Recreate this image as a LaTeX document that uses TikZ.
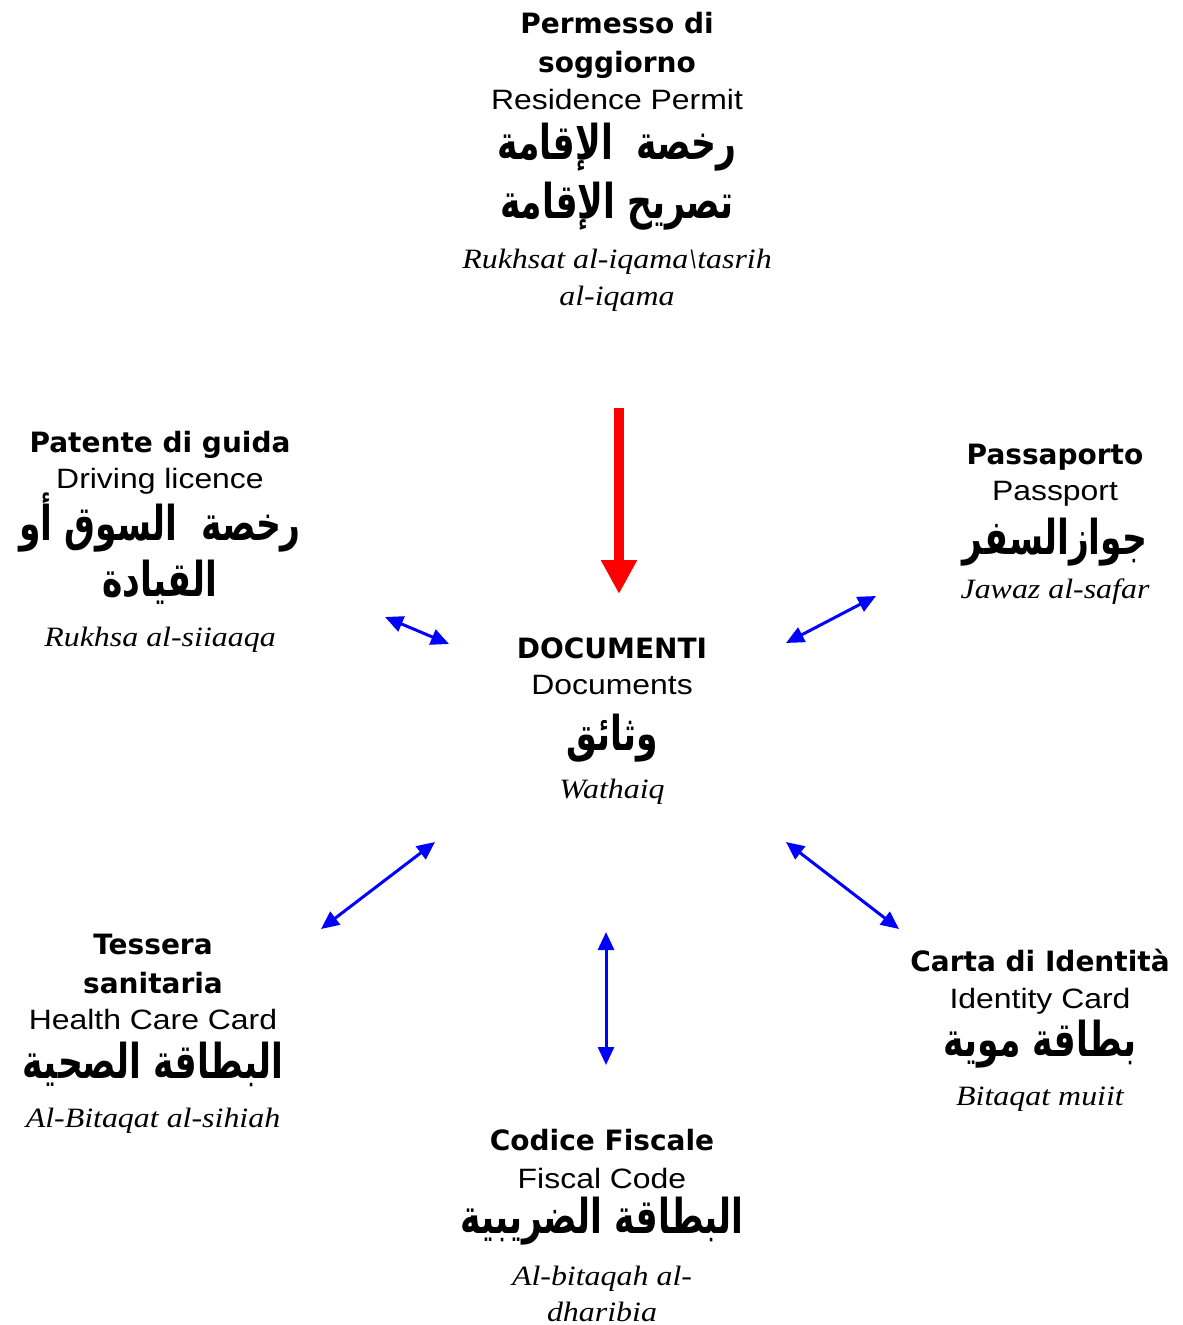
\documentclass[tikz,border=0pt]{standalone}
\usepackage{fontspec}
\usetikzlibrary{arrows.meta}
\TeXXeTstate=1
\setmainfont{Liberation Serif}
\newfontfamily\titfont{DejaVu Sans}
\newfontfamily\engfont[FakeStretch=1.14]{Liberation Sans}
\newfontfamily\trfont[FakeStretch=1.14]{Liberation Serif}
\newfontfamily\arabicfont[Script=Arabic,FakeStretch=0.72]{DejaVu Sans}
\newcommand{\ar}[1]{\beginR #1\endR}

\tikzset{
  tit/.style={anchor=base, inner sep=0pt, font=\titfont\bfseries\fontsize{14}{16}\selectfont},
  eng/.style={anchor=base, inner sep=0pt, font=\engfont\fontsize{14}{16}\selectfont},
  arab/.style={anchor=base, inner sep=0pt, font=\arabicfont\bfseries\fontsize{24}{28}\selectfont},
  trl/.style={anchor=base, inner sep=0pt, font=\trfont\itshape\fontsize{14}{16}\selectfont},
  bidir/.style={blue, line width=1.5pt, {Triangle[length=9pt,width=8pt]}-{Triangle[length=9pt,width=8pt]}},
}

\begin{document}
\begin{tikzpicture}[x=0.5pt, y=-0.5pt]
  \useasboundingbox (0,0) rectangle (1182,1325);

  % permesso di soggiorno
  \node[tit] (perm1) at (617,34) {Permesso di};
  \node[tit] (perm2) at (617,73) {soggiorno};
  \node[eng] (perm3) at (617,110) {Residence Permit};
  \node[arab] (perm4) at (617,160) {\ar{رخصة\hspace{12pt}الإقامة}};
  \node[arab] (perm5) at (617,219) {\ar{تصريح الإقامة}};
  \node[trl] (perm6) at (617,269) {Rukhsat al-iqama\textbackslash tasrih};
  \node[trl] (perm7) at (617,306) {al-iqama};

  % patente
  \node[tit] (pat1) at (160,452) {Patente di guida};
  \node[eng] (pat2) at (160,488) {Driving licence};
  \node[arab] (pat3) at (160,540) {\ar{رخصة\hspace{12pt}السوق أو}};
  \node[arab] (pat4) at (160,596) {\ar{القيادة}};
  \node[trl] (pat5) at (160,646) {Rukhsa al-siiaaqa};

  % passaporto
  \node[tit] (pass1) at (1055,465) {Passaporto};
  \node[eng] (pass2) at (1055,501) {Passport};
  \node[arab] (pass3) at (1055,554) {\ar{جوازالسفر}};
  \node[trl] (pass4) at (1055,598) {Jawaz al-safar};

  % documenti (centro)
  \node[tit] (doc1) at (612,658) {DOCUMENTI};
  \node[eng] (doc2) at (612,694) {Documents};
  \node[arab] (doc3) at (612,750) {\ar{وثائق}};
  \node[trl] (doc4) at (612,798) {Wathaiq};

  % tessera sanitaria
  \node[tit] (tes1) at (153,954) {Tessera};
  \node[tit] (tes2) at (153,993) {sanitaria};
  \node[eng] (tes3) at (153,1029) {Health Care Card};
  \node[arab] (tes4) at (153,1078) {\ar{البطاقة الصحية}};
  \node[trl] (tes5) at (153,1127) {Al-Bitaqat al-sihiah};

  % codice fiscale
  \node[tit] (cod1) at (602,1150) {Codice Fiscale};
  \node[eng] (cod2) at (602,1188) {Fiscal Code};
  \node[arab] (cod3) at (602,1233) {\ar{البطاقة الضريبية}};
  \node[trl] (cod4) at (602,1285) {Al-bitaqah al-};
  \node[trl] (cod5) at (602,1321) {dharibia};

  % carta di identita
  \node[tit] (car1) at (1040,971) {Carta di Identità};
  \node[eng] (car2) at (1040,1008) {Identity Card};
  \node[arab] (car3) at (1040,1056) {\ar{بطاقة موية}};
  \node[trl] (car4) at (1040,1105) {Bitaqat muiit};

  % frecce
  \coordinate (rt) at (619,408);
  \coordinate (rb) at (619,594);
  \draw[red, line width=5pt, -{Triangle[length=17pt,width=17pt]}] (rt) -- (rb);

  \coordinate (a1) at (385,617);  \coordinate (b1) at (449,644);
  \coordinate (a2) at (876,596);  \coordinate (b2) at (786,643);
  \coordinate (a3) at (321,929);  \coordinate (b3) at (435,842);
  \coordinate (a4) at (606,932);  \coordinate (b4) at (606,1065);
  \coordinate (a5) at (899,929);  \coordinate (b5) at (786,842);
  \foreach \i in {1,...,5}
    \draw[bidir] (a\i) -- (b\i);
\end{tikzpicture}
\end{document}
